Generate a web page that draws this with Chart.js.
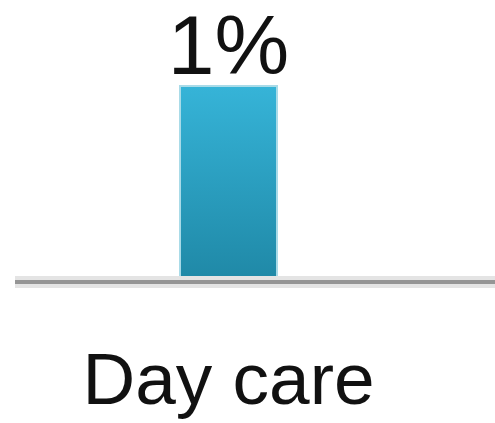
<!DOCTYPE html>
<html>
<head>
<meta charset="utf-8">
<script src="https://cdn.jsdelivr.net/npm/chart.js@4/dist/chart.umd.min.js"></script>
<style>
  body { margin: 0; background: #fff; }
  #wrap { width: 495px; height: 423px; }
</style>
</head>
<body>
<div id="wrap"><canvas id="careChart"></canvas></div>
<script>
// Data
const categories = ['Day care'];
const shares = [1];          // percent
const valueLabels = ['1%'];

// Draws the "1%" label above each bar
const valueLabelPlugin = {
    id: 'valueLabels',
    afterDatasetsDraw(chart) {
        const ctx = chart.ctx;
        const meta = chart.getDatasetMeta(0);
        ctx.save();
        ctx.font = '84px "Liberation Sans", Arial, sans-serif';
        ctx.fillStyle = '#111';
        ctx.textAlign = 'center';
        ctx.textBaseline = 'alphabetic';
        meta.data.forEach((bar, i) => {
            ctx.fillText(valueLabels[i], bar.x, bar.y - 11);
        });
        ctx.restore();
    }
};

// Gray baseline running across the whole width
const baselinePlugin = {
    id: 'baseline',
    afterDatasetsDraw(chart) {
        const ctx = chart.ctx;
        const y = chart.scales.y.getPixelForValue(0);
        ctx.save();
        ctx.fillStyle = '#e4e4e4';
        ctx.fillRect(chart.chartArea.left, y - 6, chart.width - chart.chartArea.left, 12);
        ctx.fillStyle = '#959595';
        ctx.fillRect(chart.chartArea.left, y - 2, chart.width - chart.chartArea.left, 4);
        ctx.restore();
    }
};

function barGradient(context) {
    const area = context.chart.chartArea;
    if (!area) return '#2aa0c2';
    const g = context.chart.ctx.createLinearGradient(0, area.top, 0, area.bottom);
    g.addColorStop(0, '#36b4d8');
    g.addColorStop(1, '#1f88a6');
    return g;
}

new Chart(document.getElementById('careChart'), {
    type: 'bar',
    data: {
        labels: categories,
        datasets: [{
            data: shares,
            backgroundColor: barGradient,
            borderColor: 'rgba(160, 215, 230, 0.9)',
            borderWidth: { left: 2, right: 2, top: 2, bottom: 0 },
            categoryPercentage: 1,
            barPercentage: 0.232
        }]
    },
    options: {
        responsive: true,
        maintainAspectRatio: false,
        animation: false,
        layout: { padding: { left: 15, right: 53, top: 85, bottom: 0 } },
        plugins: {
            legend: { display: false },
            tooltip: { enabled: false }
        },
        scales: {
            x: {
                grid: { display: false, drawTicks: false },
                border: { display: false },
                ticks: {
                    color: '#111',
                    padding: 58,
                    font: { family: '"Liberation Sans", Arial, sans-serif', size: 73 }
                },
                afterFit(scale) { scale.height = 141; }
            },
            y: {
                display: false,
                min: 0,
                max: 1
            }
        }
    },
    plugins: [valueLabelPlugin, baselinePlugin]
});
</script>
</body>
</html>
